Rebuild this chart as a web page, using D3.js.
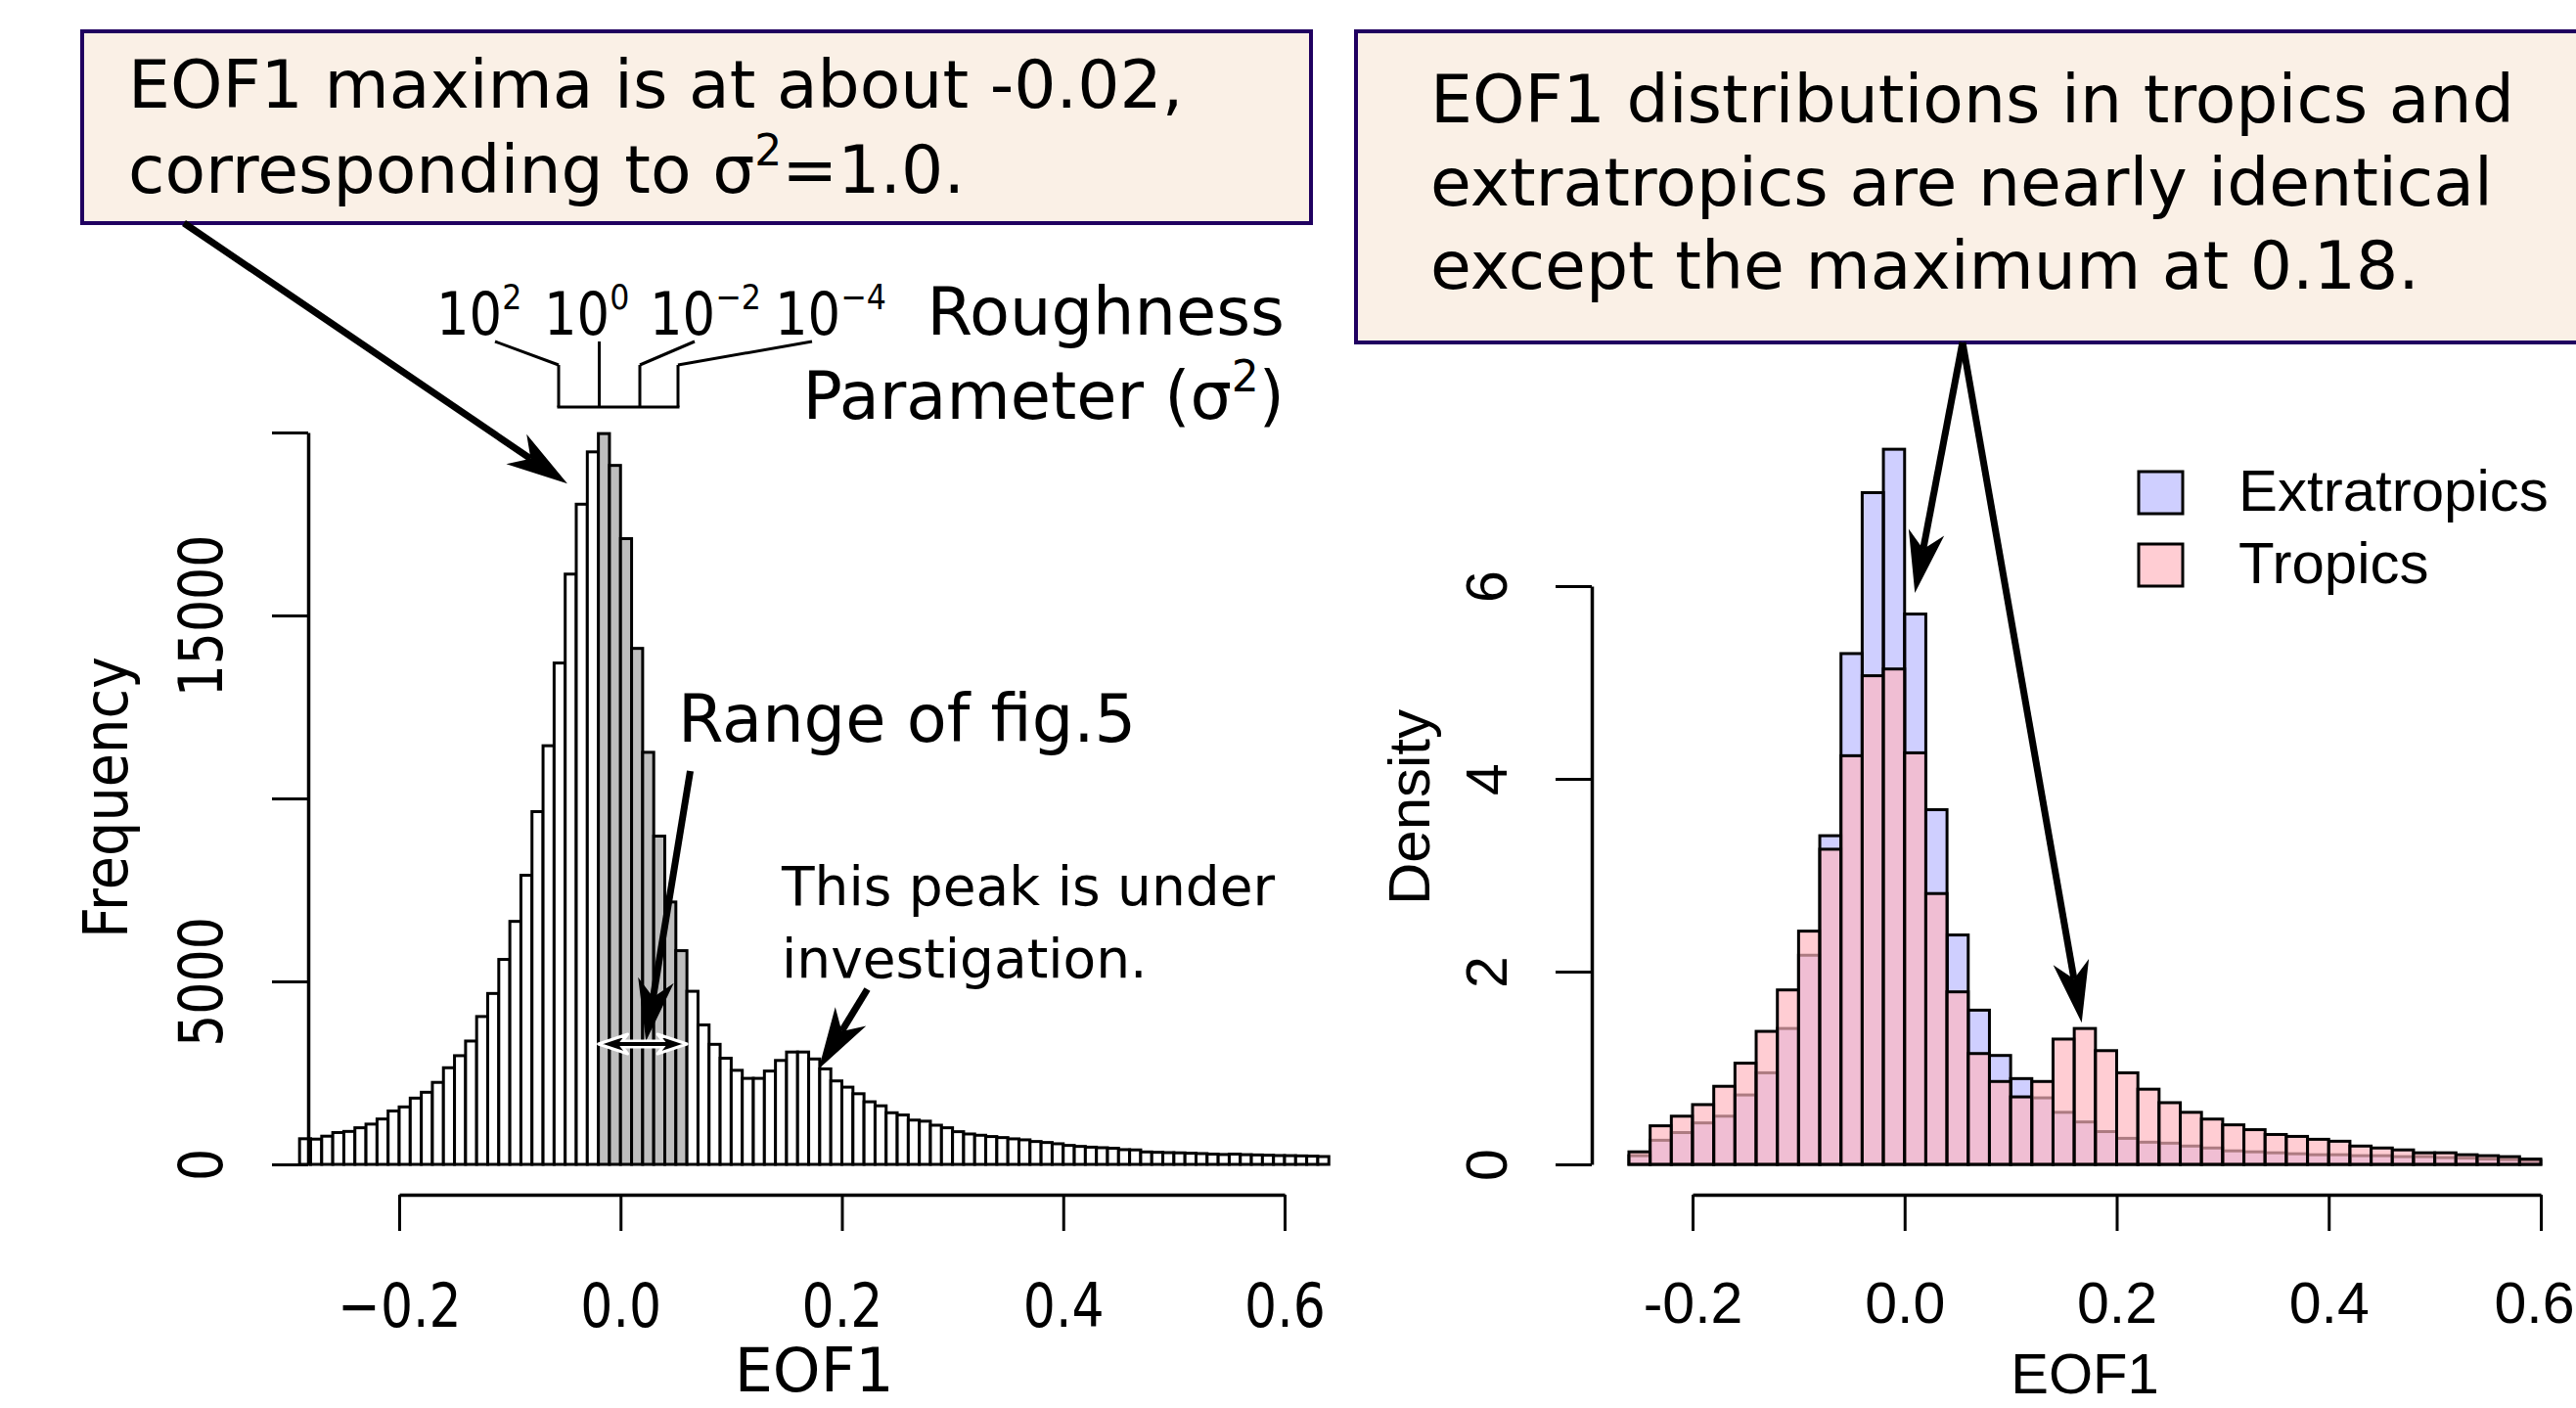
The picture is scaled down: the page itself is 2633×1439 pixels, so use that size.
<!DOCTYPE html>
<html>
<head>
<meta charset="utf-8">
<script src="https://cdn.jsdelivr.net/npm/d3@7"></script>
<style>
  body { margin: 0; background: #fff; }
  svg { display: block; }
</style>
</head>
<body>
<script>
// ---- data -------------------------------------------------------------
// left panel: histogram of EOF1, bins of 0.01 starting at -0.29
var leftStart = -0.29;
var leftBin = 0.01;
var eofCounts = [
  700, 690, 770, 870, 900, 1000, 1100, 1240, 1460, 1570,
  1810, 1970, 2240, 2640, 2970, 3370, 4040, 4670, 5600, 6640,
  7900, 9640, 11440, 13700, 16130, 18040, 19470, 19970, 19100, 17100,
  14100, 11260, 8970, 7170, 5840, 4730, 3810, 3280, 2900, 2570,
  2350, 2350, 2550, 2840, 3070, 3070, 2880, 2610, 2280, 2110,
  1930, 1710, 1600, 1410, 1350, 1210, 1180, 1070, 1000, 893,
  830, 795, 760, 732, 697, 670, 625, 598, 563, 518,
  491, 470, 455, 440, 402, 395, 340, 330, 321, 315,
  304, 295, 280, 270, 280, 265, 258, 250, 241, 238,
  232, 225, 214
];
var fig5Range = [-0.02, 0.06];

// right panel: densities, bins of 0.02 starting at -0.26
var rightStart = -0.26;
var rightBin = 0.02;
var extraDensity = [
  0.09, 0.25, 0.33, 0.43, 0.50, 0.72, 0.95, 1.41, 2.17, 3.41,
  5.30, 6.97, 7.42, 5.71, 3.68, 2.38, 1.60, 1.13, 0.89, 0.69,
  0.54, 0.44, 0.34, 0.27, 0.23, 0.22, 0.19, 0.17, 0.14, 0.13,
  0.12, 0.11, 0.10, 0.10, 0.09, 0.09, 0.08, 0.08, 0.07, 0.065,
  0.055, 0.05, 0.04
];
var tropDensity = [
  0.13, 0.40, 0.50, 0.62, 0.81, 1.05, 1.38, 1.81, 2.42, 3.27,
  4.24, 5.07, 5.14, 4.27, 2.81, 1.79, 1.15, 0.86, 0.70, 0.86,
  1.30, 1.41, 1.18, 0.95, 0.78, 0.64, 0.54, 0.47, 0.41, 0.36,
  0.31, 0.29, 0.26, 0.24, 0.19, 0.17, 0.15, 0.12, 0.12, 0.10,
  0.09, 0.08, 0.055
];

var xTicks = [-0.2, 0, 0.2, 0.4, 0.6];
var freqTicks = [0, 5000, 10000, 15000, 20000];
var freqLabels = [0, 5000, 15000];
var densTicks = [0, 2, 4, 6];
var legendNames = ["Extratropics", "Tropics"];
var powerLabels = [["10", "2"], ["10", "0"], ["10", "\u22122"], ["10", "\u22124"]];

// ---- layout -----------------------------------------------------------
var W = 2633, H = 1439;
var DEJAVU = "DejaVu Sans", LIB = "Liberation Sans";
var blueFill = "rgba(0,0,255,0.19)";
var pinkFill = "rgba(255,182,190,0.68)";
var boxFill = "#faf0e6", boxStroke = "#200060";

var svg = d3.select("body").append("svg")
  .attr("width", W).attr("height", H);
svg.append("rect").attr("width", W).attr("height", H).attr("fill", "#fff");

var xL = d3.scaleLinear().domain([-0.2, 0.6]).range([408, 1313]);
var yL = d3.scaleLinear().domain([0, 20000]).range([1190, 442]);
var xR = d3.scaleLinear().domain([-0.2, 0.6]).range([1730, 2597]);
var yR = d3.scaleLinear().domain([0, 6]).range([1190, 599]);

// ---- left histogram ---------------------------------------------------
var gL = svg.append("g");
gL.selectAll("rect")
  .data(eofCounts)
  .enter()
  .append("rect")
  .attr("x", function(d, i) { return xL(leftStart + i * leftBin); })
  .attr("y", function(d) { return yL(d); })
  .attr("width", xL(leftBin) - xL(0))
  .attr("height", function(d) { return yL(0) - yL(d); })
  .attr("fill", function(d, i) {
    var mid = leftStart + (i + 0.5) * leftBin;
    return (mid > fig5Range[0] && mid < fig5Range[1]) ? "#bebebe" : "#fff";
  })
  .attr("stroke", "#000")
  .attr("stroke-width", 3);

var axLx = svg.append("g")
  .attr("transform", "translate(0,1221)")
  .call(d3.axisBottom(xL).tickValues(xTicks).tickSize(37).tickSizeOuter(0)
    .tickFormat(d3.format(".1f")));
axLx.attr("font-family", DEJAVU).attr("font-size", 62);
axLx.select(".domain").attr("stroke-width", 3.5);
axLx.selectAll(".tick line").attr("stroke-width", 3);
axLx.selectAll(".tick text")
  .attr("y", 0).attr("dy", null).attr("fill", "#000")
  .attr("transform", "translate(0,135) scale(0.84,1)");

var axLy = svg.append("g")
  .attr("transform", "translate(315,0)")
  .call(d3.axisLeft(yL).tickValues(freqTicks).tickSize(37).tickSizeOuter(0)
    .tickFormat(function(d) { return freqLabels.indexOf(d) >= 0 ? d : ""; }));
axLy.attr("font-family", DEJAVU).attr("font-size", 62);
axLy.select(".domain").attr("stroke-width", 3.5);
axLy.selectAll(".tick line").attr("stroke-width", 3);
axLy.selectAll(".tick text")
  .attr("x", 0).attr("y", 0).attr("dy", null).attr("fill", "#000")
  .attr("text-anchor", "middle")
  .attr("transform", "translate(-88,0) rotate(-90) scale(0.84,1)");

svg.append("text")
  .attr("x", xL(leftStart + eofCounts.length * leftBin / 2)).attr("y", 1422)
  .attr("text-anchor", "middle")
  .attr("font-family", DEJAVU).attr("font-size", 62)
  .text("EOF1");
svg.append("text")
  .attr("transform", "translate(130,815) rotate(-90) scale(0.9,1)")
  .attr("text-anchor", "middle")
  .attr("font-family", DEJAVU).attr("font-size", 62)
  .text("Frequency");

// ---- right histogram --------------------------------------------------
var gR = svg.append("g");
[[extraDensity, blueFill], [tropDensity, pinkFill]].forEach(function(s) {
  gR.append("g").selectAll("rect")
    .data(s[0])
    .enter()
    .append("rect")
    .attr("x", function(d, i) { return xR(rightStart + i * rightBin); })
    .attr("y", function(d) { return yR(d); })
    .attr("width", xR(rightBin) - xR(0))
    .attr("height", function(d) { return yR(0) - yR(d); })
    .attr("fill", s[1])
    .attr("stroke", "#000")
    .attr("stroke-width", 3);
});

var axRx = svg.append("g")
  .attr("transform", "translate(0,1221)")
  .call(d3.axisBottom(xR).tickValues(xTicks).tickSize(37).tickSizeOuter(0)
    .tickFormat(function(d) { return d3.format(".1f")(d).replace("\u2212", "-"); }));
axRx.attr("font-family", LIB).attr("font-size", 59);
axRx.select(".domain").attr("stroke-width", 3.5);
axRx.selectAll(".tick line").attr("stroke-width", 3);
axRx.selectAll(".tick text")
  .attr("y", 131).attr("dy", null).attr("fill", "#000")
  // last label sits on the page edge: nudge it so it stays visible
  .attr("x", function(d) { return d === 0.6 ? -7 : 0; });

var axRy = svg.append("g")
  .attr("transform", "translate(1627,0)")
  .call(d3.axisLeft(yR).tickValues(densTicks).tickSize(37).tickSizeOuter(0)
    .tickFormat(d3.format("d")));
axRy.attr("font-family", LIB).attr("font-size", 59);
axRy.select(".domain").attr("stroke-width", 3.5);
axRy.selectAll(".tick line").attr("stroke-width", 3);
axRy.selectAll(".tick text")
  .attr("x", 0).attr("y", 0).attr("dy", null).attr("fill", "#000")
  .attr("text-anchor", "middle")
  .attr("transform", "translate(-87,0) rotate(-90)");

svg.append("text")
  .attr("x", xR(rightStart + extraDensity.length * rightBin / 2)).attr("y", 1424)
  .attr("text-anchor", "middle")
  .attr("font-family", LIB).attr("font-size", 58)
  .text("EOF1");
svg.append("text")
  .attr("transform", "translate(1461,825) rotate(-90)")
  .attr("text-anchor", "middle")
  .attr("font-family", LIB).attr("font-size", 60)
  .text("Density");

// legend
var leg = svg.append("g").attr("transform", "translate(2186,482)");
legendNames.forEach(function(name, i) {
  leg.append("rect")
    .attr("x", 0).attr("y", i * 74)
    .attr("width", 45).attr("height", 43)
    .attr("fill", i === 0 ? blueFill : pinkFill)
    .attr("stroke", "#000").attr("stroke-width", 3);
  leg.append("text")
    .attr("x", 102).attr("y", i * 74 + 40)
    .attr("font-family", LIB).attr("font-size", 60)
    .text(name);
});

// ---- annotations ------------------------------------------------------
function arrow(g, x1, y1, x2, y2) {
  var dx = x2 - x1, dy = y2 - y1, L = Math.hypot(dx, dy);
  var ux = dx / L, uy = dy / L, px = -uy, py = ux;
  var hl = 63, hw = 18.5;
  var nx = x2 - ux * hl * 0.72, ny = y2 - uy * hl * 0.72;
  var bx = x2 - ux * hl, by = y2 - uy * hl;
  g.append("line")
    .attr("x1", x1).attr("y1", y1).attr("x2", nx).attr("y2", ny)
    .attr("stroke", "#000").attr("stroke-width", 7);
  g.append("path")
    .attr("d", "M" + x2 + "," + y2 +
      "L" + (bx + px * hw) + "," + (by + py * hw) +
      "L" + nx + "," + ny +
      "L" + (bx - px * hw) + "," + (by - py * hw) + "Z")
    .attr("fill", "#000");
}

function textBox(g, x, y, w, h, lines, tx, ty, dy) {
  g.append("rect")
    .attr("x", x).attr("y", y).attr("width", w).attr("height", h)
    .attr("fill", boxFill).attr("stroke", boxStroke).attr("stroke-width", 4);
  return lines.map(function(line, i) {
    return g.append("text")
      .attr("x", tx).attr("y", ty + i * dy)
      .attr("font-family", DEJAVU).attr("font-size", 68)
      .text(line);
  });
}

var ann = svg.append("g");

// box 1 + arrow to the peak
var b1 = textBox(ann, 84, 32, 1256, 196, ["EOF1 maxima is at about -0.02,", "corresponding to \u03c3"], 131, 110, 87);
b1[1].append("tspan").attr("font-size", 44).attr("dy", -28).text("2");
b1[1].append("tspan").attr("dy", 28).text("=1.0.");
arrow(ann, 188, 228, xL(-0.048), yL(18600));

// box 2 + two arrows
textBox(ann, 1386, 32, 1320, 318,
  ["EOF1 distributions in tropics and", "extratropics are nearly identical", "except the maximum at 0.18."],
  1462, 125, 85);
arrow(ann, 2006, 350, xR(0.0097), yR(5.93));
arrow(ann, 2006, 350, xR(0.167), yR(1.47));

// roughness parameter bracket
var powX = [446, 556, 664, 792];
powerLabels.forEach(function(p, i) {
  var t = ann.append("text")
    .attr("transform", "translate(" + powX[i] + ",342) scale(0.88,1)")
    .attr("font-family", DEJAVU).attr("font-size", 60)
    .text(p[0]);
  t.append("tspan").attr("font-size", 36).attr("dy", -26).text(p[1]);
});
var bracket = [
  [506, 349, 571, 373], [571, 373, 571, 416],
  [612.5, 349, 612.5, 416],
  [710, 349, 654, 373], [654, 373, 654, 416],
  [830, 349, 693, 373], [693, 373, 693, 416],
  [569.5, 416, 694.5, 416]
];
bracket.forEach(function(s) {
  ann.append("line")
    .attr("x1", s[0]).attr("y1", s[1]).attr("x2", s[2]).attr("y2", s[3])
    .attr("stroke", "#000").attr("stroke-width", 3);
});
ann.append("text")
  .attr("x", 1313).attr("y", 342).attr("text-anchor", "end")
  .attr("font-family", DEJAVU).attr("font-size", 67)
  .text("Roughness");
var par = ann.append("text")
  .attr("x", 1313).attr("y", 428).attr("text-anchor", "end")
  .attr("font-family", DEJAVU).attr("font-size", 67)
  .text("Parameter (\u03c3");
par.append("tspan").attr("font-size", 44).attr("dy", -28).text("2");
par.append("tspan").attr("dy", 28).text(")");

// range of fig.5
ann.append("text")
  .attr("x", 693).attr("y", 758)
  .attr("font-family", DEJAVU).attr("font-size", 67)
  .text("Range of fig.5");
arrow(ann, xL(0.063), yL(10750), xL(0.023), yL(3370));

var ry = yL(3290), ra = xL(fig5Range[0]), rb = xL(fig5Range[1]);
var dbl = "M" + ra + "," + ry + "l30,-10l-8,10l8,10Z" +
          "M" + rb + "," + ry + "l-30,-10l8,10l-8,10Z";
ann.append("line").attr("x1", ra + 20).attr("x2", rb - 20).attr("y1", ry).attr("y2", ry)
  .attr("stroke", "#fff").attr("stroke-width", 9);
ann.append("path").attr("d", dbl).attr("fill", "#000")
  .attr("stroke", "#fff").attr("stroke-width", 3).attr("stroke-linejoin", "round");
ann.append("line").attr("x1", ra + 20).attr("x2", rb - 20).attr("y1", ry).attr("y2", ry)
  .attr("stroke", "#000").attr("stroke-width", 4);

// secondary peak note
ann.append("text")
  .attr("x", 799).attr("y", 925)
  .attr("font-family", DEJAVU).attr("font-size", 55)
  .text("This peak is under");
ann.append("text")
  .attr("x", 799).attr("y", 999)
  .attr("font-family", DEJAVU).attr("font-size", 55)
  .text("investigation.");
arrow(ann, xL(0.223), yL(4786), xL(0.179), yL(2604));
</script>
</body>
</html>
